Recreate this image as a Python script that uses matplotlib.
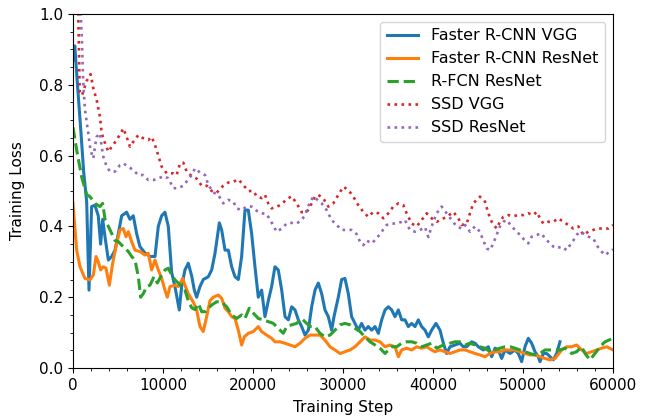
import numpy as np
import matplotlib
matplotlib.use("Agg")
import matplotlib.pyplot as plt
from matplotlib.ticker import MultipleLocator

# values
vgg_x = [0, 200, 500, 900, 1200, 1520, 1780, 2070, 2440, 2810, 3070, 3300, 3560, 3930, 4300, 4670,
         5040, 5410, 5960, 6330, 6700, 7070, 7440, 8000, 8560, 9110, 9480, 9850, 10220, 10590, 10960,
         11330, 11810, 12070, 12440, 12810, 13190, 13480, 13740, 14110, 14480, 15040, 15410, 15780,
         16260, 16520, 16890, 17260, 17630, 18000, 18370, 18740, 19110, 19480, 19850, 20220, 20590,
         20960, 21330, 21700, 22070, 22440, 22810, 23190, 23560, 23930, 24300, 24670, 25040, 25410,
         25780, 26150, 26520, 26890, 27260, 27630, 28000, 28370, 28740, 29000, 29480, 29850, 30220,
         30590, 30960, 31330, 31700, 32070, 32440, 32810, 33190, 33560, 33930, 34300, 34670, 35040,
         35410, 35780, 36150, 36520, 36890, 37260, 37630, 38000, 38370, 38740, 39110, 39480, 39850,
         40330, 40780, 41150, 41520, 41890, 42440, 43000, 43370, 43740, 44300, 44670, 45040, 45590,
         46150, 46520, 46890, 47260, 47630, 48000, 48560, 49110, 49480, 49850, 50220, 50590, 50960,
         51330, 51700, 51890, 52260, 52630, 53000, 53370, 53740, 54110]
vgg_y = [0.87, 0.91, 0.80, 0.66, 0.55, 0.47, 0.22, 0.456, 0.46, 0.43, 0.35, 0.42, 0.37, 0.305, 0.315, 0.333,
         0.38, 0.43, 0.44, 0.42, 0.43, 0.38, 0.343, 0.325, 0.315, 0.315, 0.40, 0.43, 0.44, 0.40, 0.27,
         0.23, 0.164, 0.23, 0.277, 0.296, 0.26, 0.22, 0.20, 0.23, 0.25, 0.258, 0.277, 0.324,
         0.41, 0.39, 0.333, 0.333, 0.286, 0.258, 0.25, 0.315, 0.446, 0.446, 0.38, 0.286, 0.20,
         0.22, 0.145, 0.19, 0.23, 0.286, 0.277, 0.22, 0.145, 0.136, 0.173, 0.164, 0.136, 0.117,
         0.093, 0.107, 0.173, 0.22, 0.24, 0.21, 0.164, 0.145, 0.107, 0.145, 0.20, 0.25, 0.253,
         0.21, 0.145, 0.126, 0.107, 0.126, 0.107, 0.117, 0.107, 0.117, 0.098, 0.136, 0.164, 0.173,
         0.164, 0.145, 0.164, 0.136, 0.136, 0.117, 0.126, 0.117, 0.136, 0.117, 0.107, 0.088, 0.107,
         0.126, 0.107, 0.07, 0.041, 0.06, 0.065, 0.07, 0.06, 0.06, 0.074, 0.07, 0.06, 0.051,
         0.06, 0.032, 0.056, 0.051, 0.027, 0.051, 0.041, 0.051, 0.041, 0.018, 0.06, 0.084, 0.07,
         0.046, 0.032, 0.018, 0.041, 0.041, 0.032, 0.023, 0.041, 0.074]

res_x = [0, 410, 780, 1330, 1890, 2260, 2560, 2810, 3070, 3370, 3670, 4040, 4410, 4780, 5220, 5590,
         5890, 6150, 6520, 6890, 7440, 8000, 8370, 8740, 9110, 9480, 9850, 10220, 10480, 10780, 11330,
         11700, 12190, 12440, 12810, 13370, 13740, 14110, 14480, 14850, 15220, 15590, 16150, 16520,
         16890, 17260, 17630, 18000, 18370, 18740, 19040, 19480, 20040, 20590, 20960, 21520, 22070,
         22440, 23000, 23560, 24110, 24670, 25220, 25780, 26330, 26890, 27440, 28000, 28560, 29110,
         29670, 30220, 30780, 31330, 31890, 32440, 33000, 33560, 34110, 34670, 35220, 35780, 36150,
         36520, 37070, 37630, 38190, 38740, 39300, 39850, 40220, 40780, 41330, 41890, 42440, 43000,
         43560, 44110, 44670, 45220, 45780, 46330, 46890, 47440, 48000, 48560, 49110, 49670, 50220,
         50780, 51330, 51890, 52440, 53000, 53560, 54300, 54850, 55410, 55960, 56520, 57070, 57630,
         58190, 58740, 59300, 60000]
res_y = [0.465, 0.333, 0.286, 0.253, 0.249, 0.263, 0.315, 0.30, 0.277, 0.286, 0.282, 0.234, 0.296, 0.343,
         0.39, 0.394, 0.371, 0.385, 0.357, 0.333, 0.329, 0.319, 0.324, 0.277, 0.305, 0.277, 0.253,
         0.22, 0.20, 0.23, 0.234, 0.23, 0.253, 0.234, 0.21, 0.186, 0.164, 0.117, 0.103, 0.145,
         0.19, 0.20, 0.206, 0.197, 0.169, 0.159, 0.145, 0.14, 0.107, 0.065, 0.088, 0.098, 0.103,
         0.117, 0.103, 0.093, 0.084, 0.074, 0.074, 0.07, 0.065, 0.06, 0.07, 0.084, 0.093, 0.093,
         0.093, 0.079, 0.06, 0.051, 0.041, 0.046, 0.051, 0.06, 0.074, 0.088, 0.079, 0.079, 0.074,
         0.06, 0.065, 0.06, 0.032, 0.051, 0.056, 0.051, 0.06, 0.056, 0.06, 0.051, 0.046, 0.051,
         0.046, 0.041, 0.046, 0.051, 0.051, 0.046, 0.041, 0.037, 0.032, 0.041, 0.046, 0.046, 0.051,
         0.051, 0.051, 0.046, 0.041, 0.037, 0.037, 0.032, 0.027, 0.023, 0.027, 0.051, 0.06, 0.06,
         0.065, 0.051, 0.041, 0.046, 0.051, 0.056, 0.06, 0.051]

rfcn_x = [0, 410, 960, 1520, 1890, 2440, 3000, 3300, 3560, 3930, 4300, 4670, 5040, 5410, 5780, 6150,
          6520, 6890, 7260, 7520, 7810, 8190, 8560, 9000, 9370, 9740, 10220, 10590, 10960, 11330,
          11700, 12070, 12440, 12810, 13190, 13560, 13930, 14300, 14670, 15040, 15410, 15960, 16520,
          17070, 17630, 18190, 18740, 19110, 19590, 20040, 20590, 21150, 21700, 22260, 22810, 23370,
          23740, 24300, 24850, 25410, 25960, 26410, 26890, 27440, 28000, 28560, 29110, 29670, 30220,
          30780, 31330, 31890, 32440, 33000, 33560, 34110, 34670, 35040, 35410, 35960, 36520, 37070,
          37630, 38190, 38740, 39300, 39850, 40410, 41150, 41890, 42440, 43000, 43560, 44110, 44670,
          45220, 45780, 46330, 46890, 47440, 48000, 48560, 49110, 49670, 50220, 50780, 51330, 51890,
          52440, 53000, 53560, 54110, 54670, 55410, 55960, 56520, 56890, 57440, 58000, 58560, 59110,
          60000]
rfcn_y = [0.68, 0.616, 0.54, 0.49, 0.484, 0.465, 0.456, 0.465, 0.42, 0.40, 0.38, 0.36, 0.357, 0.347, 0.338,
          0.329, 0.315, 0.305, 0.258, 0.20, 0.21, 0.23, 0.234, 0.258, 0.24, 0.258, 0.277, 0.282, 0.263,
          0.249, 0.24, 0.23, 0.22, 0.19, 0.17, 0.165, 0.182, 0.159, 0.159, 0.169, 0.178, 0.187, 0.187,
          0.173, 0.15, 0.14, 0.15, 0.14, 0.169, 0.155, 0.14, 0.136, 0.131, 0.126, 0.112, 0.098,
          0.117, 0.122, 0.126, 0.14, 0.126, 0.117, 0.117, 0.098, 0.088, 0.093, 0.107, 0.122, 0.126,
          0.122, 0.112, 0.103, 0.088, 0.074, 0.065, 0.056, 0.041, 0.051, 0.06, 0.06, 0.07, 0.074,
          0.074, 0.07, 0.06, 0.065, 0.07, 0.056, 0.065, 0.07, 0.074, 0.074, 0.065, 0.07, 0.065,
          0.06, 0.056, 0.046, 0.051, 0.056, 0.06, 0.06, 0.056, 0.051, 0.046, 0.041, 0.037, 0.041,
          0.051, 0.051, 0.051, 0.051, 0.056, 0.041, 0.046, 0.06, 0.041, 0.023, 0.041, 0.06, 0.074,
          0.084]

ssdv_x = [400, 600, 750, 1000, 1500, 1960, 2260, 2630, 3000, 3190, 3560, 3930, 4300, 4850, 5410, 5590,
          5960, 6330, 6700, 7260, 7810, 8370, 8740, 9110, 9480, 9850, 10410, 11150, 11520, 11890,
          12260, 12630, 13190, 13740, 14300, 14850, 15410, 15960, 16700, 17260, 17810, 18370, 18920,
          19480, 20040, 20410, 20960, 21330, 21700, 22070, 22630, 23190, 23740, 24300, 24850, 25410,
          25960, 26520, 26890, 27260, 27810, 28370, 28920, 29480, 30040, 30590, 31150, 31700, 32260,
          32810, 33370, 33930, 34480, 35040, 35590, 36150, 36700, 37070, 37630, 38190, 38740, 39300,
          39850, 40410, 40960, 41520, 42260, 42810, 43190, 43740, 44110, 44480, 44850, 45220, 45780,
          46150, 46520, 47070, 47440, 47810, 48370, 48920, 49480, 50040, 50590, 51150, 51520, 51890,
          52260, 52810, 53370, 53920, 54480, 55040, 55590, 56150, 56700, 57260, 57810, 58370, 58920,
          59480, 60000]
ssdv_y = [1.3, 0.98, 0.78, 0.77, 0.81, 0.83, 0.79, 0.757, 0.71, 0.663, 0.635, 0.611, 0.625, 0.644, 0.668,
          0.677, 0.653, 0.625, 0.639, 0.658, 0.649, 0.644, 0.653, 0.63, 0.60, 0.569, 0.55, 0.55, 0.545,
          0.578, 0.58, 0.555, 0.542, 0.535, 0.515, 0.515, 0.50, 0.495, 0.515, 0.524, 0.526, 0.533,
          0.517, 0.50, 0.50, 0.485, 0.48, 0.489, 0.465, 0.451, 0.455, 0.463, 0.477, 0.485, 0.465,
          0.44, 0.44, 0.465, 0.484, 0.489, 0.479, 0.456, 0.465, 0.489, 0.512, 0.503, 0.484, 0.46,
          0.441, 0.427, 0.441, 0.437, 0.423, 0.437, 0.456, 0.465, 0.46, 0.437, 0.408, 0.40, 0.418,
          0.437, 0.423, 0.413, 0.42, 0.427, 0.441, 0.423, 0.404, 0.408, 0.437, 0.465, 0.475, 0.484,
          0.47, 0.437, 0.413, 0.394, 0.413, 0.427, 0.432, 0.429, 0.432, 0.432, 0.437, 0.432, 0.441,
          0.423, 0.408, 0.413, 0.413, 0.423, 0.413, 0.404, 0.394, 0.40, 0.376, 0.385, 0.39, 0.394,
          0.394, 0.394, 0.404]

ssdr_x = [650, 850, 960, 1150, 1330, 1700, 1890, 2070, 2260, 2440, 2630, 3000, 3190, 3370, 3740, 4110,
          4670, 5220, 5590, 6150, 6700, 7260, 7810, 8370, 8920, 9480, 10040, 10590, 11150, 11700,
          12260, 12810, 13190, 13560, 14110, 14670, 15040, 15590, 16150, 16700, 17260, 17810, 18190,
          18740, 19300, 19850, 20410, 20960, 21520, 22070, 22630, 23190, 23740, 24300, 24850, 25410,
          25780, 26150, 26700, 27070, 27630, 28190, 28740, 29300, 29850, 30410, 30960, 31520, 31890,
          32260, 32630, 33190, 33740, 34300, 34850, 35410, 35960, 36520, 36890, 37440, 38000, 38560,
          39110, 39480, 39850, 40410, 40960, 41520, 42070, 42630, 43190, 43560, 44110, 44670, 45220,
          45590, 45960, 46330, 46700, 47070, 47440, 47810, 48190, 48740, 49300, 49670, 50220, 50590,
          50960, 51520, 52070, 52440, 53000, 53370, 53740, 54300, 54850, 55220, 55590, 55960, 56330,
          56700, 57260, 57810, 58190, 58560, 59110, 59670, 60000]
ssdr_y = [1.3, 1.0, 0.946, 0.80, 0.73, 0.663, 0.625, 0.606, 0.592, 0.625, 0.653, 0.663, 0.625, 0.597,
          0.569, 0.555, 0.555, 0.573, 0.578, 0.569, 0.559, 0.545, 0.545, 0.531, 0.531, 0.535, 0.542,
          0.536, 0.508, 0.508, 0.515, 0.533, 0.545, 0.564, 0.552, 0.545, 0.517, 0.496, 0.489, 0.465,
          0.475, 0.47, 0.451, 0.446, 0.456, 0.456, 0.444, 0.437, 0.435, 0.411, 0.385, 0.394, 0.408,
          0.41, 0.408, 0.418, 0.432, 0.458, 0.484, 0.477, 0.465, 0.446, 0.418, 0.404, 0.39, 0.39,
          0.39, 0.378, 0.357, 0.347, 0.36, 0.352, 0.366, 0.385, 0.404, 0.408, 0.408, 0.413, 0.418,
          0.39, 0.385, 0.39, 0.398, 0.37, 0.40, 0.437, 0.456, 0.437, 0.418, 0.40, 0.394, 0.404,
          0.385, 0.40, 0.385, 0.36, 0.338, 0.333, 0.352, 0.376, 0.40, 0.413, 0.418, 0.40, 0.385,
          0.376, 0.36, 0.352, 0.371, 0.376, 0.38, 0.366, 0.352, 0.343, 0.338, 0.343, 0.333, 0.347,
          0.36, 0.376, 0.385, 0.38, 0.371, 0.366, 0.347, 0.333, 0.319, 0.329, 0.335]

plt.rcParams['font.size'] = 11

fig = plt.figure(figsize=(6.54, 4.19), dpi=100)
ax = fig.add_axes([0.1116, 0.1217, 0.8257, 0.8449])

ax.plot(vgg_x, vgg_y, '-', color='C0', lw=2.2, label='Faster R-CNN VGG')
ax.plot(res_x, res_y, '-', color='C1', lw=2.2, label='Faster R-CNN ResNet')
ax.plot(rfcn_x, rfcn_y, '--', color='C2', lw=2.2, label='R-FCN ResNet')
ax.plot(ssdv_x, ssdv_y, ':', color='C3', lw=1.9, label='SSD VGG')
ax.plot(ssdr_x, ssdr_y, ':', color='C4', lw=1.9, label='SSD ResNet')

ax.set_xlim(0, 60000)
ax.set_ylim(0, 1.0)
ax.xaxis.set_major_locator(MultipleLocator(10000))
ax.xaxis.set_minor_locator(MultipleLocator(2000))
ax.yaxis.set_major_locator(MultipleLocator(0.2))
ax.yaxis.set_minor_locator(MultipleLocator(0.05))
ax.set_xlabel('Training Step', labelpad=5)
ax.set_ylabel('Training Loss', labelpad=10)
ax.legend(loc='upper right', fontsize=11.5)

fig.savefig('out.png', dpi=100)
